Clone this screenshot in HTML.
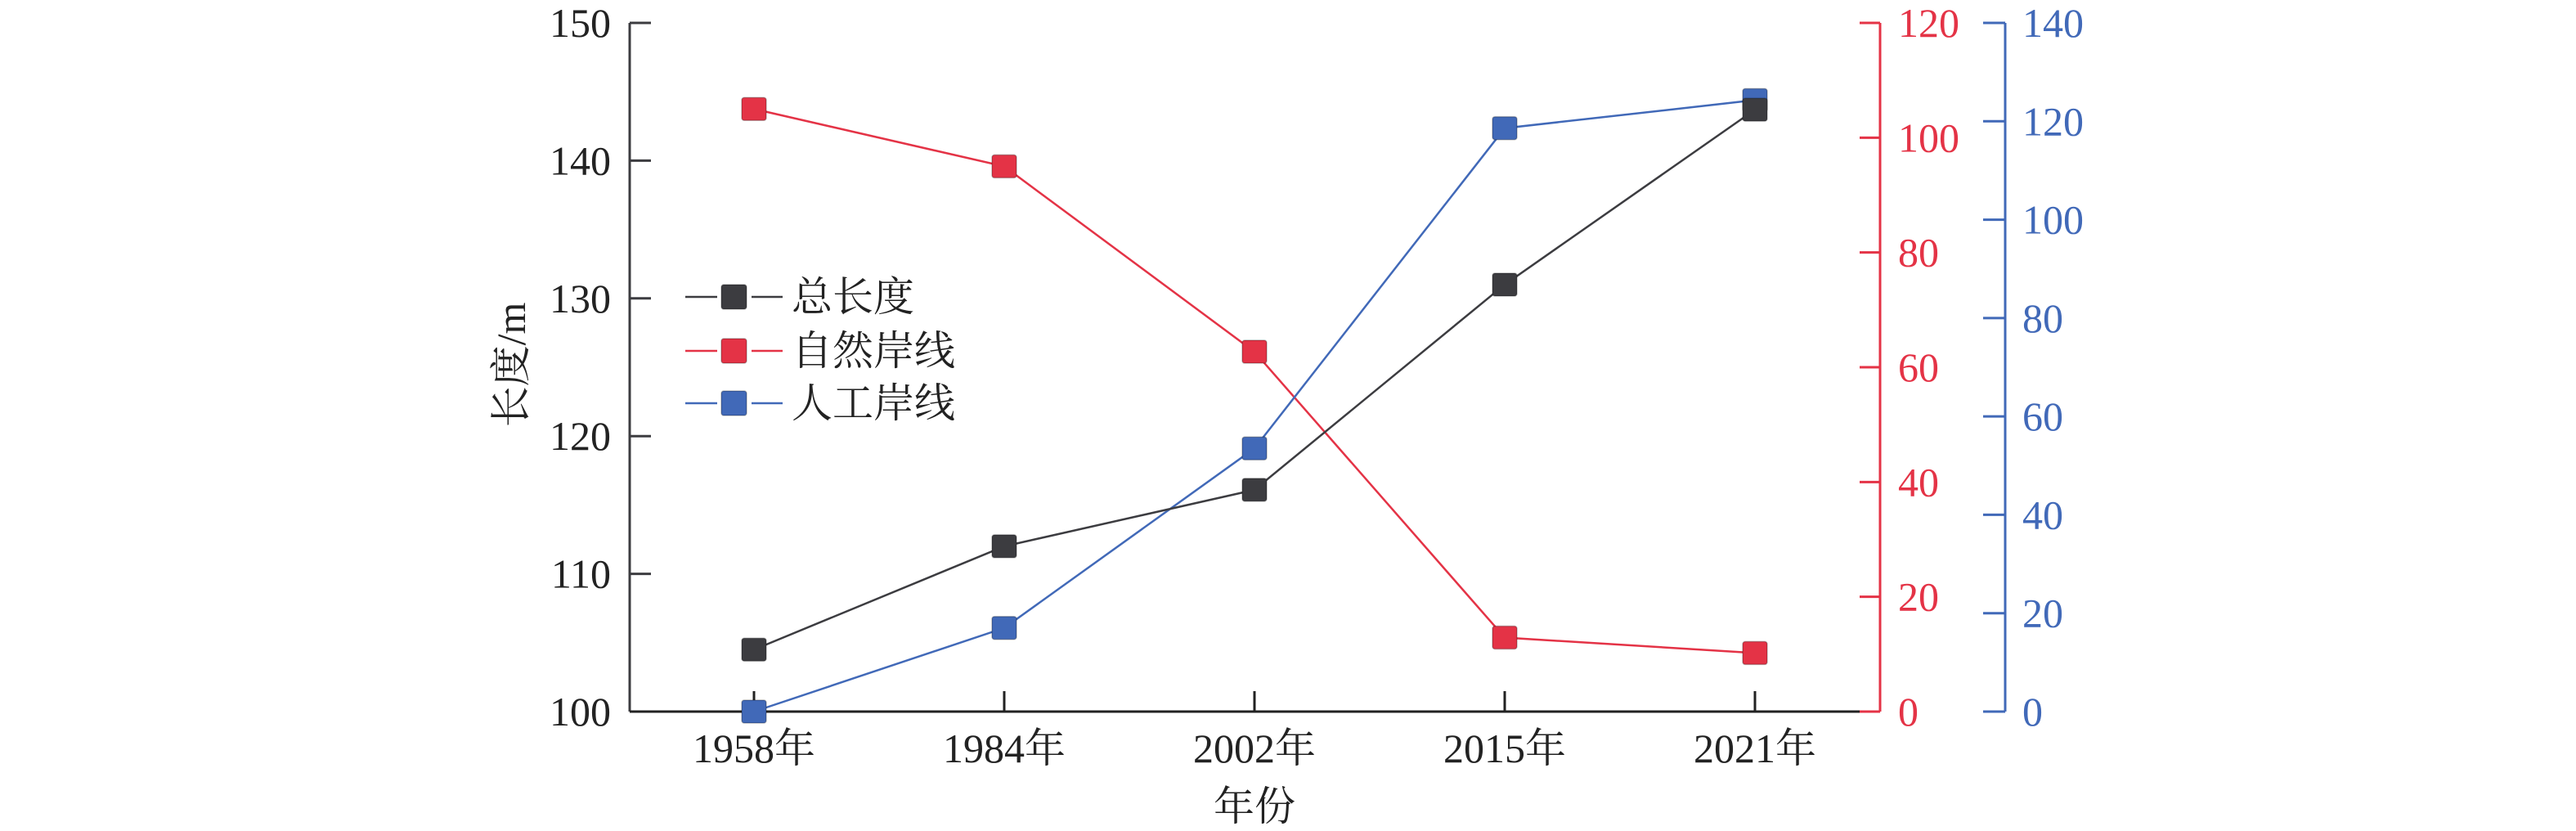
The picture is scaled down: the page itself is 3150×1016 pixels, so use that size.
<!DOCTYPE html>
<html><head><meta charset="utf-8"><style>
html,body{margin:0;padding:0;background:#fff;}
svg{display:block;font-family:"Liberation Serif","Noto Serif CJK SC",serif;}
</style></head><body>
<svg id="chart" width="3150" height="1016" viewBox="0 0 3150 1016"></svg>
<script>
const categories = ["1958年","1984年","2002年","2015年","2021年"];
const totalLength = [104.5, 112, 116.1, 131, 143.7];
const naturalShore = [105, 95, 62.7, 12.9, 10.2];
const artificialShore = [0, 17, 53.5, 118.6, 124.3];
const leftTicks = [100,110,120,130,140,150];
const redTicks = [0,20,40,60,80,100,120];
const blueTicks = [0,20,40,60,80,100,120,140];

const NS = "http://www.w3.org/2000/svg";
const svg = document.getElementById('chart');
const X0 = 770, X1 = 2299, XB = 2452, YT = 28, YB = 870;
const cx0 = 922, cStep = 306;
const BLACK = "#3c3c40", RED = "#e43346", BLUE = "#4169b8";
function xPos(i){ return cx0 + i*cStep; }
function yLeft(v){ return YB - (v-100)/50*(YB-YT); }
function yRed(v){ return YB - v/120*(YB-YT); }
function yBlue(v){ return YB - v/140*(YB-YT); }
function el(tag, attrs, text){
  const e = document.createElementNS(NS, tag);
  for (const k in attrs) e.setAttribute(k, attrs[k]);
  if (text !== undefined) e.textContent = text;
  svg.appendChild(e);
  return e;
}
let e;
// left axis
e = el('line',{x1:X0,y1:YT,x2:X0,y2:YB,stroke:BLACK,'stroke-width':3});


leftTicks.forEach(v=>{
  e = el('line',{x1:X0,y1:yLeft(v),x2:X0+26,y2:yLeft(v),stroke:BLACK,'stroke-width':3});
  
  
  e = el('text',{x:747,y:yLeft(v)+17,'text-anchor':'end','font-size':50,fill:'#222'},String(v));
  
  
});
// x axis
e = el('line',{x1:X0,y1:YB,x2:X1,y2:YB,stroke:'#222','stroke-width':3});


categories.forEach((c,i)=>{
  e = el('line',{x1:xPos(i),y1:YB,x2:xPos(i),y2:YB-25,stroke:'#222','stroke-width':3});
  
  
  e = el('text',{x:xPos(i),y:932,'text-anchor':'middle','font-size':50,fill:'#222'},c);
  
  
});
e = el('text',{x:1534,y:1003,'text-anchor':'middle','font-size':50,fill:'#222'},'年份');


e = el('text',{x:0,y:0,'text-anchor':'middle','font-size':50,fill:'#222',transform:'translate(642,446) rotate(-90)'},'长度/m');


// red axis
e = el('line',{x1:X1,y1:YT,x2:X1,y2:YB,stroke:RED,'stroke-width':3});


redTicks.forEach(v=>{
  e = el('line',{x1:X1-25,y1:yRed(v),x2:X1,y2:yRed(v),stroke:RED,'stroke-width':3});
  
  
  e = el('text',{x:2321,y:yRed(v)+17,'font-size':50,fill:RED},String(v));
  
  
});
// blue axis
e = el('line',{x1:XB,y1:YT,x2:XB,y2:YB,stroke:BLUE,'stroke-width':3});


blueTicks.forEach(v=>{
  e = el('line',{x1:XB-27,y1:yBlue(v),x2:XB,y2:yBlue(v),stroke:BLUE,'stroke-width':3});
  
  
  e = el('text',{x:2473,y:yBlue(v)+17,'font-size':50,fill:BLUE},String(v));
  
  
});
// series
function series(vals, yf, color, name){
  const pts = vals.map((v,i)=>xPos(i)+','+yf(v)).join(' ');
  e = el('polyline',{points:pts,fill:'none',stroke:color,'stroke-width':2.5});
  
  
  vals.forEach((v,i)=>{
    e = el('rect',{x:xPos(i)-15,y:yf(v)-14,width:30,height:28,rx:3,fill:color,stroke:'rgba(0,0,0,0.25)','stroke-width':1.5});
    
    
  });
}
series(naturalShore, yRed, RED, 'natural-shoreline');
series(artificialShore, yBlue, BLUE, 'artificial-shoreline');
series(totalLength, yLeft, BLACK, 'total-length');
// legend
const legendItems = [["总长度",BLACK,363],["自然岸线",RED,429],["人工岸线",BLUE,493]];
legendItems.forEach(it=>{
  e = el('line',{x1:838,y1:it[2],x2:877,y2:it[2],stroke:it[1],'stroke-width':2.5});
  
  
  e = el('line',{x1:919,y1:it[2],x2:957,y2:it[2],stroke:it[1],'stroke-width':2.5});
  
  
  e = el('rect',{x:882,y:it[2]-15,width:31,height:30,rx:3,fill:it[1],stroke:'rgba(0,0,0,0.25)','stroke-width':1.5});
  
  
  e = el('text',{x:968,y:it[2]+17,'font-size':50,fill:'#222'},it[0]);
  
  
});
</script>
</body></html>
